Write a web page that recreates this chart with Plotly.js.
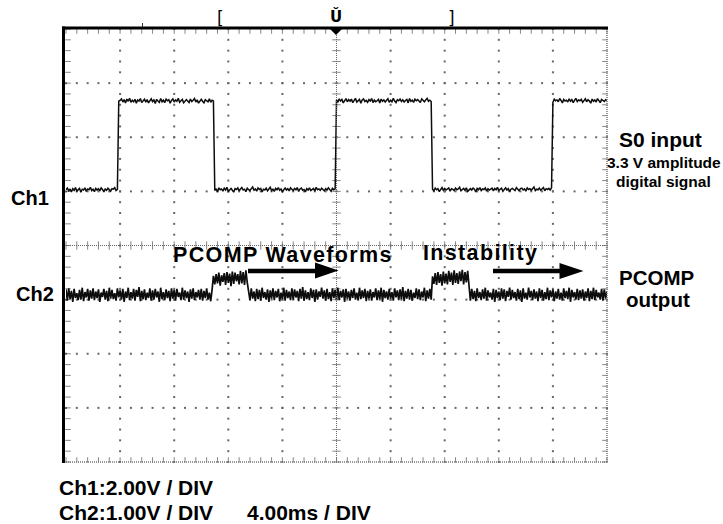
<!DOCTYPE html>
<html>
<head>
<meta charset="utf-8">
<script src="https://cdn.plot.ly/plotly-3.0.1.min.js"></script>
<style>
  html, body { margin: 0; padding: 0; background: #fff; }
  #scope { width: 723px; height: 524px; }
</style>
</head>
<body>
<div id="scope"></div>
<script>
// ---- acquisition settings ----
const timePerDiv = 4.0;        // ms / DIV
const ch1VoltsPerDiv = 2.0;    // V / DIV
const ch2VoltsPerDiv = 1.0;    // V / DIV
const ch1Offset = 1;           // ground position, divisions above centre
const ch2Offset = -1;          // ground position, divisions above centre
const sampleInterval = 0.1;    // ms between samples (record starts at 0 ms)

// ---- Ch1: S0 input, volts per sample ----
const ch1Volts = [
  0.06,0.12,0.02,0.09,-0.02,0.10,0.04,0.14,0.01,0.07,
  0.11,-0.03,0.08,0.05,0.13,0.00,0.09,0.06,0.15,0.03,
  0.08,-0.01,0.11,0.05,0.10,0.02,0.13,0.07,-0.02,0.09,
  0.04,0.12,0.06,0.01,0.10,0.08,0.14,0.03,0.07,3.33,
  3.36,3.42,3.30,3.39,3.27,3.41,3.33,3.44,3.29,3.37,
  3.31,3.40,3.26,3.38,3.34,3.43,3.28,3.36,3.41,3.30,
  3.39,3.27,3.35,3.42,3.32,3.38,3.25,3.40,3.34,3.29,
  3.43,3.31,3.37,3.28,3.41,3.35,3.39,3.26,3.36,3.42,
  3.30,3.38,3.33,3.44,3.29,3.36,3.40,3.27,3.35,3.39,
  3.34,3.28,3.41,3.32,3.37,3.43,3.30,3.38,3.26,3.36,
  3.40,3.33,3.27,3.39,3.35,3.31,3.42,3.29,3.37,3.34,
  0.03,0.10,-0.02,0.13,0.06,0.09,0.01,0.12,0.05,0.15,
  0.00,0.08,0.11,0.04,-0.03,0.10,0.07,0.13,0.02,0.09,
  0.14,0.05,0.08,-0.01,0.12,0.06,0.03,0.10,0.16,0.04,
  0.09,0.01,0.13,0.07,0.11,-0.02,0.08,0.05,0.12,0.02,
  0.10,0.15,0.03,0.08,0.00,0.11,0.06,0.14,0.04,0.09,
  -0.01,0.07,0.12,0.05,0.10,0.02,0.13,0.08,0.03,0.11,
  0.06,0.14,0.00,0.09,0.12,0.04,0.07,-0.02,0.10,0.05,
  0.13,0.03,0.08,0.11,0.01,0.15,0.06,0.09,0.04,0.12,
  0.07,0.02,0.10,0.05,0.13,0.08,0.00,0.11,0.06,0.09,
  3.38,3.29,3.42,3.34,3.40,3.27,3.36,3.43,3.31,3.39,
  3.33,3.41,3.28,3.37,3.44,3.30,3.35,3.40,3.26,3.38,
  3.42,3.32,3.36,3.29,3.39,3.34,3.43,3.28,3.37,3.31,
  3.35,3.40,3.27,3.41,3.33,3.38,3.30,3.36,3.42,3.29,
  3.37,3.31,3.44,3.34,3.28,3.39,3.35,3.41,3.32,3.38,
  3.30,3.36,3.40,3.27,3.43,3.33,3.37,3.29,3.41,3.35,
  3.39,3.34,3.28,3.42,3.36,3.31,3.38,3.44,3.33,3.37,
  3.32,0.08,0.02,0.12,0.06,0.10,-0.01,0.09,0.14,0.04,
  0.11,0.05,0.08,0.13,0.01,0.10,0.07,0.03,0.12,0.06,
  0.09,0.15,0.02,0.08,0.11,0.04,0.13,0.00,0.07,0.10,
  0.05,0.12,0.08,-0.02,0.11,0.06,0.14,0.03,0.09,0.07,
  0.13,0.01,0.10,0.05,0.08,0.12,0.02,0.11,0.06,0.15,
  0.04,0.09,0.12,0.00,0.07,0.13,0.05,0.10,-0.01,0.08,
  0.11,0.06,0.03,0.14,0.08,0.02,0.10,0.12,0.05,0.09,
  0.01,0.13,0.07,0.10,0.04,0.11,0.16,0.03,0.08,0.06,
  0.12,0.04,0.09,0.14,0.02,0.10,0.07,0.11,0.05,0.13,
  3.29,3.41,3.35,3.38,3.31,3.43,3.36,3.27,3.40,3.34,
  3.37,3.30,3.42,3.33,3.39,3.28,3.36,3.44,3.32,3.38,
  3.35,3.40,3.29,3.37,3.42,3.31,3.39,3.34,3.26,3.41,
  3.33,3.38,3.30,3.43,3.36,3.28,3.40,3.35,3.32,3.39,
  3.36
];

// ---- Ch2: PCOMP output, volts per sample ----
const ch2Volts = [
  0.19,-0.02,0.21,0.01,0.16,-0.04,0.20,0.03,0.12,-0.01,
  0.18,0.00,0.22,-0.03,0.14,0.04,0.20,-0.02,0.17,0.02,
  0.21,-0.01,0.15,0.03,0.19,-0.04,0.13,0.05,0.20,0.00,
  0.16,-0.03,0.22,0.02,0.18,0.01,0.12,-0.02,0.21,0.04,
  0.17,0.00,0.20,-0.04,0.15,0.03,0.22,-0.01,0.14,0.02,
  0.20,-0.02,0.18,0.05,0.23,-0.03,0.16,0.01,0.19,-0.01,
  0.13,0.03,0.21,-0.02,0.17,0.00,0.20,0.04,0.15,-0.04,
  0.22,0.01,0.14,-0.01,0.19,0.03,0.16,-0.03,0.21,0.02,
  0.18,-0.02,0.20,0.05,0.13,-0.01,0.22,0.00,0.17,0.03,
  0.15,-0.04,0.19,0.02,0.21,-0.01,0.14,0.04,0.18,0.00,
  0.20,-0.02,0.16,0.03,0.21,0.00,0.13,-0.03,0.18,0.44,
  0.28,0.47,0.30,0.50,0.26,0.45,0.33,0.49,0.27,0.51,
  0.31,0.48,0.25,0.52,0.29,0.50,0.34,0.47,0.28,0.53,
  0.30,0.51,0.27,0.54,0.32,0.19,-0.01,0.21,0.02,0.15,
  -0.03,0.20,0.01,0.18,-0.02,0.22,0.03,0.14,0.00,0.19,
  -0.04,0.17,0.02,0.21,-0.01,0.16,0.04,0.20,-0.03,0.13,
  0.01,0.22,-0.02,0.18,0.03,0.15,-0.01,0.21,0.00,0.19,
  0.04,0.16,-0.03,0.20,0.02,0.23,-0.02,0.17,0.01,0.14,
  -0.01,0.21,0.03,0.18,-0.04,0.19,0.00,0.15,0.05,0.22,
  0.02,0.17,-0.02,0.20,0.01,0.14,-0.03,0.21,0.03,0.18,
  0.00,0.22,-0.01,0.16,0.04,0.19,-0.04,0.20,0.02,0.15,
  -0.02,0.18,0.03,0.21,0.00,0.13,-0.01,0.22,0.01,0.17,
  0.03,0.20,-0.03,0.16,0.02,0.19,-0.02,0.14,0.04,0.21,
  -0.01,0.17,0.01,0.22,-0.04,0.18,0.03,0.15,0.00,0.20,
  0.02,0.14,-0.02,0.21,0.04,0.17,-0.01,0.19,0.01,0.23,
  -0.03,0.16,0.02,0.20,0.00,0.18,-0.02,0.13,0.03,0.21,
  0.01,0.19,-0.01,0.15,0.04,0.22,-0.03,0.17,0.02,0.20,
  0.00,0.43,0.29,0.49,0.27,0.51,0.31,0.47,0.26,0.52,
  0.30,0.48,0.28,0.53,0.33,0.50,0.27,0.54,0.31,0.49,
  0.29,0.52,0.34,0.55,0.28,0.51,0.32,0.53,0.18,-0.02,
  0.20,0.01,0.16,-0.03,0.21,0.03,0.14,-0.01,0.19,0.02,
  0.22,-0.02,0.17,0.04,0.13,0.00,0.20,-0.04,0.18,0.03,
  0.15,-0.01,0.21,0.02,0.19,-0.03,0.16,0.05,0.22,0.00,
  0.18,0.03,0.14,-0.02,0.20,0.01,0.17,-0.04,0.21,0.02,
  0.13,0.00,0.22,0.04,0.16,-0.01,0.19,0.02,0.15,-0.03,
  0.21,0.03,0.18,-0.02,0.14,0.01,0.22,-0.01,0.17,0.04,
  0.19,-0.03,0.15,0.02,0.20,0.00,0.13,-0.02,0.21,0.03,
  0.16,0.01,0.22,-0.04,0.18,0.04,0.14,0.00,0.20,-0.01,
  0.17,0.02,0.19,-0.02,0.15,0.03,0.21,-0.03,0.16,0.01,
  0.22,-0.01,0.18,0.04,0.13,0.00,0.20,-0.02,0.19,0.02,
  0.15
];

// ---- screen text ----
const channelLabels = ['Ch1', 'Ch2'];
const scaleLabels = ['Ch1:2.00V / DIV', 'Ch2:1.00V / DIV', '4.00ms / DIV'];
const sideLabels = ['S0 input', '3.3 V amplitude', 'digital signal', 'PCOMP', 'output'];
const calloutLabels = ['PCOMP Waveforms', 'Instability'];

// ---- screen geometry ----
const W = 723, H = 524;
const M = { l: 66, r: 116, t: 29, b: 62 };
const plotW = W - M.l - M.r, plotH = H - M.t - M.b;
const hDivs = 10, vDivs = 8;
const xMax = hDivs * timePerDiv;
const pxPerMs = plotW / xMax, pxPerDiv = plotH / vDivs;
const px = p => (p - M.l) / plotW;          // page pixel -> paper x
const py = p => (H - M.b - p) / plotH;      // page pixel -> paper y

// graticule: dotted division lines, 5 minor marks per division
const gx = [], gy = [];
for (let d = 1; d < hDivs; d++) {
  if (d === hDivs / 2) continue;
  for (let k = 0; k <= vDivs * 5; k++) { gx.push(d * timePerDiv); gy.push(-vDivs / 2 + k / 5); }
}
for (let d = -vDivs / 2 + 1; d < vDivs / 2; d++) {
  if (d === 0) continue;
  for (let k = 0; k <= hDivs * 5; k++) { gx.push(k / 5 * timePerDiv); gy.push(d); }
}

// tick marks on centre axes and screen edges
const tx = [], ty = [], ts = [], tz = [];
const off = 2;   // px inset of edge ticks
for (let k = 0; k <= vDivs * 5; k++) {
  const y = -vDivs / 2 + k / 5;
  tx.push(xMax / 2); ty.push(y); ts.push('line-ew'); tz.push(6);
  tx.push(off / pxPerMs); ty.push(y); ts.push('line-ew'); tz.push(4);
  tx.push(xMax - off / pxPerMs); ty.push(y); ts.push('line-ew'); tz.push(4);
}
for (let k = 0; k <= hDivs * 5; k++) {
  const x = k / 5 * timePerDiv;
  tx.push(x); ty.push(0); ts.push('line-ns'); tz.push(6);
  tx.push(x); ty.push(vDivs / 2 - off / pxPerDiv); ts.push('line-ns'); tz.push(4);
  tx.push(x); ty.push(-vDivs / 2 + off / pxPerDiv); ts.push('line-ns'); tz.push(4);
}

const traces = [
  { type: 'scatter', mode: 'markers', x: gx, y: gy, hoverinfo: 'skip', cliponaxis: false,
    marker: { symbol: 'square', size: 2, color: '#666', line: { width: 0 } } },
  { type: 'scatter', mode: 'markers', x: tx, y: ty, hoverinfo: 'skip', cliponaxis: false,
    marker: { symbol: ts, size: tz, color: '#555', line: { width: 1, color: '#555' } } },
  { type: 'scatter', mode: 'lines', name: 'Ch1', x0: 0, dx: sampleInterval,
    y: ch1Volts.map(v => ch1Offset + v / ch1VoltsPerDiv),
    line: { color: '#0d0d0d', width: 1.5 } },
  { type: 'scatter', mode: 'lines', name: 'Ch2', x0: 0, dx: sampleInterval,
    y: ch2Volts.map(v => ch2Offset + v / ch2VoltsPerDiv),
    line: { color: '#0d0d0d', width: 1.7 } }
];

// frame, centre lines, arrows and trigger marker
const pathOf = pts => 'M' + pts.map(p => px(p[0]) + ',' + py(p[1])).join(' L') + ' Z';
const shapes = [
  { type: 'line', xref: 'x', yref: 'y', x0: xMax / 2, x1: xMax / 2, y0: -4, y1: 4,
    line: { color: '#666', width: 1, dash: '1px,1px' } },
  { type: 'line', xref: 'x', yref: 'y', x0: 0, x1: xMax, y0: 0, y1: 0,
    line: { color: '#666', width: 1, dash: '1px,1px' } },
  { type: 'line', xref: 'paper', yref: 'paper', x0: 1, x1: 1, y0: 0, y1: 1,
    line: { color: '#777', width: 1.5, dash: '1px,1px' } },
  { type: 'line', xref: 'paper', yref: 'paper', x0: 0, x1: 1, y0: 0, y1: 0,
    line: { color: '#777', width: 1.5, dash: '1px,1px' } },
  { type: 'line', xref: 'paper', yref: 'paper', x0: px(63.5), x1: px(63.5), y0: py(463), y1: py(26.5),
    line: { color: '#000', width: 3 } },
  { type: 'line', xref: 'paper', yref: 'paper', x0: px(62), x1: px(608), y0: py(28), y1: py(28),
    line: { color: '#000', width: 3 } },
  { type: 'line', xref: 'paper', yref: 'paper', x0: px(142.5), x1: px(142.5), y0: py(27), y1: py(23),
    line: { color: '#333', width: 1 } },
  { type: 'path', xref: 'paper', yref: 'paper', path: pathOf([[330, 29], [342, 29], [336, 35]]),
    fillcolor: '#000', line: { width: 0 } },
  // arrow after "PCOMP Waveforms"
  { type: 'line', xref: 'paper', yref: 'paper', x0: px(248), x1: px(318), y0: py(271), y1: py(271),
    line: { color: '#000', width: 4.5 } },
  { type: 'path', xref: 'paper', yref: 'paper', path: pathOf([[315, 262.5], [315, 278.5], [338.5, 270.5]]),
    fillcolor: '#000', line: { width: 0 } },
  // arrow after "Instability"
  { type: 'line', xref: 'paper', yref: 'paper', x0: px(493), x1: px(562), y0: py(271), y1: py(271),
    line: { color: '#000', width: 4.5 } },
  { type: 'path', xref: 'paper', yref: 'paper', path: pathOf([[559.5, 263], [559.5, 279], [583.5, 271]]),
    fillcolor: '#000', line: { width: 0 } }
];

const sans = 'Liberation Sans, Arial, Helvetica, sans-serif';
function note(text, x, y, size, anchor, fam) {
  return { xref: 'paper', yref: 'paper', x: px(x), y: py(y), xanchor: anchor, yanchor: 'middle',
    align: anchor === 'left' ? 'left' : 'center',
    showarrow: false, borderpad: 0, borderwidth: 0,
    text: fam ? text : '<b>' + text + '</b>',
    font: { family: fam || sans, size: size, color: '#000' } };
}
const annotations = [
  note(channelLabels[0], 30, 198.3, 20, 'center'),
  note(channelLabels[1], 35.2, 294, 20, 'center'),
  note(sideLabels[0], 660, 139.2, 21, 'center'),
  note(sideLabels[1], 663.8, 162.5, 15.5, 'center'),
  note(sideLabels[2], 663.4, 181.8, 15.5, 'center'),
  note(sideLabels[3], 656.7, 277, 20.5, 'center'),
  note(sideLabels[4], 658.3, 299.4, 20.5, 'center'),
  note(calloutLabels[0], 172.7, 254.5, 21.5, 'left'),
  note(calloutLabels[1], 423.3, 252.5, 21.5, 'left'),
  note(scaleLabels[0], 59.3, 487.5, 21, 'left'),
  note(scaleLabels[1], 59.3, 512.5, 21, 'left'),
  note(scaleLabels[2], 246.7, 512.5, 21, 'left'),
  note('[', 220.8, 17.5, 17, 'center', 'DejaVu Sans'),
  note(']', 451.7, 17.5, 17, 'center', 'DejaVu Sans'),
  note('<b>Ǔ</b>', 336, 16, 15, 'center', 'DejaVu Sans')
];

const hidden = { showgrid: false, zeroline: false, showline: false, showticklabels: false,
  ticks: '', fixedrange: true };
const layout = {
  width: W, height: H, margin: Object.assign({ pad: 0 }, M),
  paper_bgcolor: '#fff', plot_bgcolor: '#fff', showlegend: false,
  xaxis: Object.assign({ range: [0, xMax] }, hidden),
  yaxis: Object.assign({ range: [-vDivs / 2, vDivs / 2] }, hidden),
  shapes: shapes, annotations: annotations
};

Plotly.newPlot('scope', traces, layout, { staticPlot: true, displayModeBar: false }).then(gd => {
  // callouts are set a little wider than the other screen text
  gd.querySelectorAll('.annotation-text').forEach(t => {
    if (calloutLabels.includes(t.textContent)) t.style.letterSpacing = '1.35px';
  });
});
</script>
</body>
</html>
